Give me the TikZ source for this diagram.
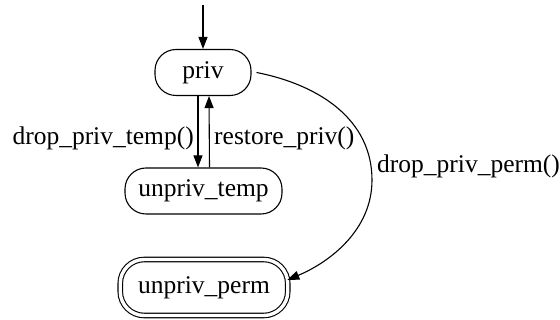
\documentclass[tikz,border=0pt]{standalone}
\usepackage{fontspec}
\setmainfont{Liberation Serif}
\usetikzlibrary{arrows.meta}
\begin{document}
\begin{tikzpicture}[x=1pt,y=1pt,
  every node/.style={font=\fontsize{25.5}{30}\selectfont},
  state/.style={draw, line width=1.1pt, rounded corners=21pt, inner sep=0pt, minimum height=46pt},
  final/.style={draw, line width=1.1pt, double, double distance=3.4pt, rounded corners=24pt, inner sep=0pt, minimum height=56pt},
  edge/.style={line width=1.1pt, -{Triangle[length=12pt,width=9pt]}},
  lbl/.style={inner sep=0pt}]
\useasboundingbox (0,0) rectangle (560,320);
\node[state, minimum width=96pt] (priv) at (203,247.5) {priv};
\node[state, minimum width=157pt] (ut) at (203.5,129) {unpriv\_temp};
\node[final, minimum width=167.5pt] (up) at (204,32.5) {unpriv\_perm};
\coordinate (start) at (203,315);
\draw[edge] (start) -- (priv.north);
\draw[edge] ([xshift=-5pt]priv.south) -- ([xshift=-5.5pt]ut.north);
\draw[edge] ([xshift=6pt]ut.north) -- ([xshift=6pt]priv.south);
\draw[edge] ([xshift=5pt]priv.east) .. controls (320,235) and (372,200) .. (372,140)
  .. controls (372,90) and (330,58) .. ([yshift=7.5pt,xshift=-1pt]up.east);
\node[lbl, anchor=base east] (l1) at (194,175) {drop\_priv\_temp()};
\node[lbl, anchor=base west] (l2) at (214,175) {restore\_priv()};
\node[lbl, anchor=base west] (l3) at (377,147) {drop\_priv\_perm()};
\end{tikzpicture}
\end{document}
